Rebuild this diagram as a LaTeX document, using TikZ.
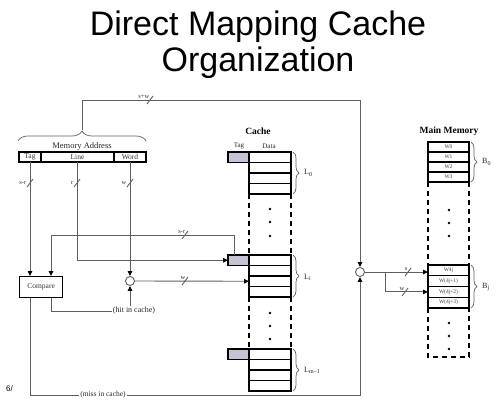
\documentclass[tikz,border=0pt]{standalone}
\usepackage{fontspec}
\setmainfont{Liberation Serif}
\newfontfamily\titlefont{Liberation Sans}
\usetikzlibrary{arrows.meta,decorations.pathreplacing,calc}
\definecolor{wirec}{RGB}{95,95,95}
\definecolor{tagfill}{RGB}{196,196,212}
\begin{document}
\begin{tikzpicture}[x=1pt,y=-1pt,
  wire/.style={draw=wirec, line width=0.9pt},
  arr/.style={wire, -{Triangle[length=5pt,width=4.5pt,black]}},
  slashmark/.style={draw=wirec, line width=0.9pt},
  slab/.style={font=\fontsize{6.5}{7}\selectfont, inner sep=0.5pt, text=black!80},
  cell/.style={draw=black, line width=1.3pt, minimum width=42pt, minimum height=10.5pt, inner sep=0pt, outer sep=0pt, anchor=north west},
  mcell/.style={draw=black, line width=1.3pt, minimum width=41pt, inner sep=0pt, outer sep=0pt, anchor=north west, font=\fontsize{5.5}{6}\selectfont, text=black!75},
  tagcell/.style={draw=black, line width=1.3pt, fill=tagfill, minimum width=21pt, minimum height=10.5pt, inner sep=0pt, outer sep=0pt, anchor=north west},
  abox/.style={draw=black, line width=1.2pt, minimum height=10pt, inner sep=0pt, outer sep=0pt, anchor=north west, font=\fontsize{7.5}{8}\selectfont, text=black!80},
  dashline/.style={draw=black, line width=1.6pt, dash pattern=on 5pt off 4pt},
  bracestyle/.style={draw=wirec, line width=0.7pt, decorate, decoration={brace, amplitude=6pt}},
  lab/.style={font=\fontsize{8}{9}\selectfont, inner sep=1pt, text=black!85},
  blab/.style={font=\bfseries\fontsize{9.5}{10}\selectfont, inner sep=0pt},
  dotc/.style={fill=black}
]
\useasboundingbox (0,0) rectangle (498,400);

% Title
\node[font=\titlefont\fontsize{34}{36}\selectfont, anchor=base] (t1) at (258,35) {Direct Mapping Cache};
\node[font=\titlefont\fontsize{34}{36}\selectfont, anchor=base] (t2) at (258,71) {Organization};

% Memory address
\node[abox, minimum width=22pt] (atag) at (19,152) {Tag};
\node[abox, minimum width=73pt] (aline) at (41,152) {Line};
\node[abox, minimum width=32pt] (aword) at (114,152) {Word};
\draw[bracestyle, decoration={amplitude=10pt}] (18,141) -- (146,141);
\coordinate (btip) at (82,130);
\node[lab, font=\fontsize{8.5}{9}\selectfont] (maddr) at (82,146) {Memory Address};

% Cache
\node[blab] (cachelab) at (258,131) {Cache};
\node[lab, font=\fontsize{7}{8}\selectfont] (ctag) at (239,146) {Tag};
\node[lab, font=\fontsize{7}{8}\selectfont] (cdata) at (269,146) {Data};

\node[tagcell] (c0tag) at (228,152) {};
\foreach \i in {0,...,3} \node[cell] (c0r\i) at (249,152+\i*10.5) {};
\node[tagcell] (c1tag) at (228,255) {};
\foreach \i in {0,...,3} \node[cell] (c1r\i) at (249,255+\i*10.5) {};
\node[tagcell] (c2tag) at (228,349) {};
\foreach \i in {0,...,3} \node[cell] (c2r\i) at (249,349+\i*10.5) {};

\draw[dashline] (c0r3.south west) -- (c1r0.north west);
\draw[dashline] (c0r3.south east) -- (c1r0.north east);
\draw[dashline] (c1r3.south west) -- (c2r0.north west);
\draw[dashline] (c1r3.south east) -- (c2r0.north east);
\foreach \y in {209,222,236,313,326,339} \fill[dotc] (270,\y) circle (1.4pt);

\draw[bracestyle] ($(c0r0.north east)+(2,0)$) -- ($(c0r3.south east)+(2,0)$);
\node[lab, anchor=west] (L0) at (303,173) {L\textsubscript{0}};
\draw[bracestyle] ($(c1r0.north east)+(2,0)$) -- ($(c1r3.south east)+(2,0)$);
\node[lab, anchor=west] (Li) at (303,277) {L\textsubscript{i}};
\draw[bracestyle] ($(c2r0.north east)+(2,0)$) -- ($(c2r3.south east)+(2,0)$);
\node[lab, anchor=west] (Lm) at (303,370) {L\textsubscript{m--1}};

% Main memory
\node[blab] (mmlab) at (449,131) {Main Memory};
\node[mcell, minimum height=10pt] (m0r0) at (428,142) {W0};
\node[mcell, minimum height=10pt] (m0r1) at (428,152) {W1};
\node[mcell, minimum height=10pt] (m0r2) at (428,162) {W2};
\node[mcell, minimum height=10pt] (m0r3) at (428,172) {W3};
\node[mcell, minimum height=10.75pt] (m1r0) at (428,265) {W4j};
\node[mcell, minimum height=10.75pt] (m1r1) at (428,275.75) {W(4j+1)};
\node[mcell, minimum height=10.75pt] (m1r2) at (428,286.5) {W(4j+2)};
\node[mcell, minimum height=10.75pt] (m1r3) at (428,297.25) {W(4j+3)};
\coordinate (mbl) at (428,357);
\coordinate (mbr) at (469,357);
\draw[dashline] (m0r3.south west) -- (m1r0.north west);
\draw[dashline] (m0r3.south east) -- (m1r0.north east);
\draw[dashline] (m1r3.south west) -- (mbl) -- (mbr) -- (m1r3.south east);
\foreach \y in {210,223,236,323,336,349} \fill[dotc] (449,\y) circle (1.4pt);
\draw[bracestyle] ($(m0r0.north east)+(2,0)$) -- ($(m0r3.south east)+(2,0)$);
\node[lab, anchor=west] (B0) at (481,162) {B\textsubscript{0}};
\draw[bracestyle] ($(m1r0.north east)+(2,0)$) -- ($(m1r3.south east)+(2,0)$);
\node[lab, anchor=west] (Bj) at (481,287) {B\textsubscript{j}};

% Compare and circles
\node[draw=black, line width=1.2pt, minimum width=43pt, minimum height=21pt, inner sep=0pt, anchor=north west, font=\fontsize{7.5}{8}\selectfont, text=black!80] (cmp) at (19,276) {Compare};
\node[circle, draw=wirec, line width=0.9pt, minimum size=9pt, inner sep=0pt, fill=white] (cir1) at (130,281) {};
\node[circle, draw=wirec, line width=0.9pt, minimum size=9pt, inner sep=0pt, fill=white] (cir2) at (360,272) {};
\node[lab] (hit) at (134,311) {(hit in cache)};
\node[lab, font=\fontsize{7.5}{8}\selectfont] (miss) at (103,395) {(miss in cache)};
\coordinate (cmpA) at ($(cmp.north west)+(11,0)$);
\coordinate (cmpB) at ($(cmp.north west)+(32,0)$);
\coordinate (cmpC) at ($(cmp.south west)+(11,0)$);
\coordinate (cmpD) at ($(cmp.south west)+(32,0)$);
\coordinate (tagtop) at ($(c1tag.north west)+(6,0)$);
\coordinate (jn) at (385,272);

% Connectors
\draw[arr] (btip) -- (82,100) -| (cir2.north);
\draw[arr] (atag.south) -- (cmpA);
\draw[arr] (aline.south) |- (c1tag.west);
\draw[arr] (aword.south) -- (cir1.north);
\draw[arr] (tagtop) -- (tagtop |- 0,235) -| (cmpB);
\draw[arr] (cir1.east) -- (c1r2.west);
\draw[wire] (cmpD) |- (hit.west);
\draw[arr] (hit.north -| cir1) -- (cir1.south);
\draw[wire] (cmpC) |- (miss.west);
\draw[arr] (miss.east) -| (cir2.south);
\draw[arr] (cir2.east) -- (cir2.east -| m1r0.west);
\draw[arr] (jn) |- (m1r2.west);

% Slash marks and widths
\draw[slashmark] (147,104) -- (153,96);
\node[slab, anchor=south east] (lsw) at (150,99) {s+w};
\draw[slashmark] (27,187) -- (33,179);
\node[slab, anchor=east] (lsr) at (27,183) {s-r};
\draw[slashmark] (74,187) -- (80,179);
\node[slab, anchor=east] (lr) at (74,183) {r};
\draw[slashmark] (127,187) -- (133,179);
\node[slab, anchor=east] (lw) at (127,183) {w};
\draw[slashmark] (182,239) -- (188,231);
\node[slab, anchor=south east] (lsr2) at (186,234) {s-r};
\draw[slashmark] (182,285) -- (188,277);
\node[slab, anchor=south east] (lw2) at (186,280) {w};
\draw[slashmark] (405,276) -- (411,268);
\node[slab, anchor=south east] (ls3) at (408,271) {s};
\draw[slashmark] (402,296) -- (408,288);
\node[slab, anchor=south east] (lw3) at (405,291) {w};

% page number
\node[font=\titlefont\fontsize{8}{9}\selectfont, anchor=west, inner sep=0pt] (pg) at (6,389) {6/};
\end{tikzpicture}
\end{document}
